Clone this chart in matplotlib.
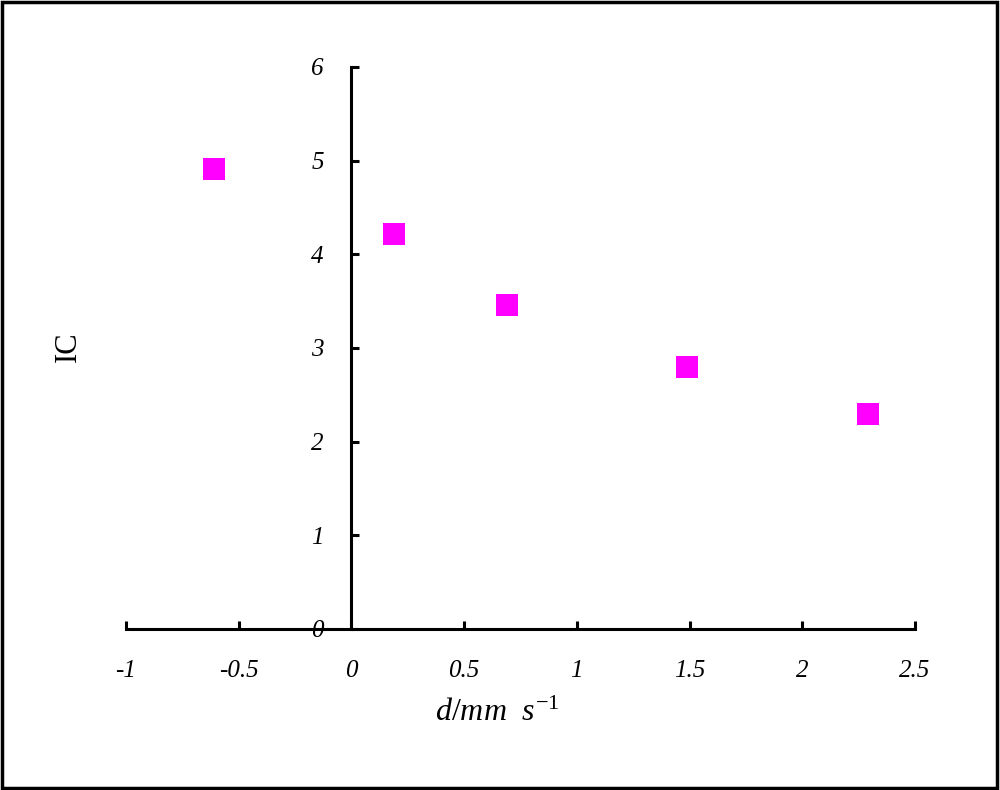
import matplotlib
matplotlib.use("Agg")
import matplotlib.pyplot as plt
from matplotlib.patches import Rectangle

plt.rcParams["font.family"] = "serif"
plt.rcParams["font.serif"] = ["Liberation Serif", "DejaVu Serif"]
plt.rcParams["mathtext.fontset"] = "custom"
plt.rcParams["mathtext.rm"] = "Liberation Serif"
plt.rcParams["mathtext.it"] = "Liberation Serif:italic"

# data
d_vals = [-0.61, 0.19, 0.69, 1.49, 2.29]
ic_vals = [4.91, 4.22, 3.46, 2.80, 2.30]
x_ticks = [-1, -0.5, 0, 0.5, 1, 1.5, 2, 2.5]
x_ticklabels = ["-1", "-0.5", "0", "0.5", "1", "1.5", "2", "2.5"]
y_ticks = [0, 1, 2, 3, 4, 5, 6]

fig = plt.figure(figsize=(10, 7.9), dpi=100)
fig.patches.append(Rectangle((0.002, 0.003), 0.995, 0.994, transform=fig.transFigure,
    fill=False, edgecolor="black", linewidth=2.5))

ax = fig.add_axes([0.126, 0.2038, 0.789, 0.7114])
ax.plot(d_vals, ic_vals, "s", color="#FF00FF", markersize=16, markeredgewidth=0)

ax.set_xlim(-1, 2.5)
ax.set_ylim(0, 6)
for side in ["top", "right"]:
    ax.spines[side].set_visible(False)
ax.spines["left"].set_position(("data", 0))
ax.spines["bottom"].set_position(("data", 0))
ax.spines["left"].set_linewidth(2.2)
ax.spines["bottom"].set_linewidth(2.2)

ax.set_xticks(x_ticks)
ax.set_xticklabels(x_ticklabels)
ax.set_yticks(y_ticks)
ax.tick_params(axis="x", direction="in", length=5.5, width=2.2, pad=22,
    labelsize=18)
ax.tick_params(axis="y", direction="in", length=5.5, width=2.2, pad=20,
    labelsize=18)
for lbl in ax.get_xticklabels() + ax.get_yticklabels():
    lbl.set_fontstyle("italic")

fig.text(0.068, 1 - 347/790, "IC", rotation=90, fontsize=22,
    ha="center", va="center")
fig.text(0.497, 1 - 713/790, r"$d/mm\ \ s^{-1}$", fontsize=23,
    ha="center", va="center")

plt.savefig("out.png")
plt.close()
